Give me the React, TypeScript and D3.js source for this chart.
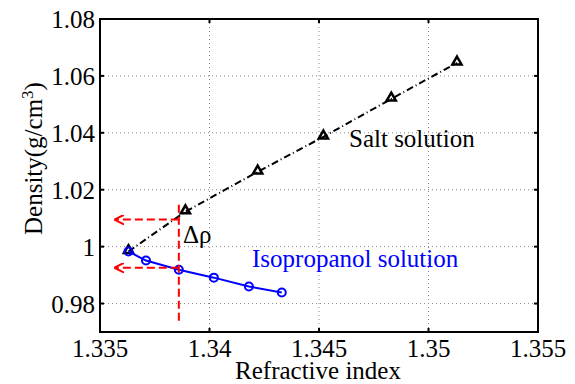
import * as d3 from "d3"

const xTicks = [1.335, 1.34, 1.345, 1.35, 1.355]
const yTicks = [0.98, 1.0, 1.02, 1.04, 1.06, 1.08]

const saltRI = [1.3363, 1.3389, 1.3422, 1.3452, 1.3483, 1.3513]
const saltDensity = [0.9983, 1.0123, 1.0263, 1.0386, 1.0519, 1.0646]

const isoRI = [1.3363, 1.3371, 1.3386, 1.3402, 1.3418, 1.3433]
const isoDensity = [0.9983, 0.9951, 0.9919, 0.9891, 0.986, 0.9839]

// red guide lines for the density difference
const guideRI = 1.3386
const guideArrowRI = 1.3357
const guideLevels = [1.0095, 0.9926]
const guideSpan = [1.0147, 0.9733]

const width = 575
const height = 384
const margin = { top: 19, right: 37, bottom: 52, left: 100 }
const txt = { fontFamily: "'Liberation Serif', serif", fontSize: "25px" }

export default function App() {
  const x = d3.scaleLinear().domain([1.335, 1.355]).range([margin.left, width - margin.right])
  const y = d3.scaleLinear().domain([0.97, 1.08]).range([height - margin.bottom, margin.top])

  const salt = saltRI.map((r, i) => [r, saltDensity[i]] as [number, number])
  const iso = isoRI.map((r, i) => [r, isoDensity[i]] as [number, number])
  const line = d3
    .line<[number, number]>()
    .x((d) => x(d[0]))
    .y((d) => y(d[1]))

  const x0 = x.range()[0]
  const x1 = x.range()[1]
  const y0 = y.range()[0]
  const y1 = y.range()[1]
  const tri = d3.symbol().type(d3.symbolTriangle).size(36)

  return (
    <svg width={width} height={height} style={{ position: "absolute", left: 0, top: 0 }}>
      <defs>
        <marker id="arr" viewBox="0 0 10 10" refX="9" refY="5" markerWidth="5" markerHeight="5" orient="auto">
          <path d="M0,0 L10,5 L0,10" fill="none" stroke="#ff0000" strokeWidth="2" />
        </marker>
      </defs>
      <rect x={0} y={0} width={width} height={height} fill="#fff" />

      {/* grid */}
      <g stroke="#888" strokeWidth={1} strokeDasharray="1,3">
        {xTicks.slice(1, -1).map((t) => (
          <line key={t} x1={x(t)} x2={x(t)} y1={y0} y2={y1} />
        ))}
        {yTicks.slice(0, -1).map((t) => (
          <line key={t} x1={x0} x2={x1} y1={y(t)} y2={y(t)} />
        ))}
      </g>

      {/* ticks */}
      <g stroke="#000" strokeWidth={2}>
        {xTicks.map((t) => (
          <g key={t}>
            <line x1={x(t)} x2={x(t)} y1={y0} y2={y0 - 4} />
            <line x1={x(t)} x2={x(t)} y1={y1} y2={y1 + 4} />
          </g>
        ))}
        {yTicks.map((t) => (
          <g key={t}>
            <line x1={x0} x2={x0 + 4} y1={y(t)} y2={y(t)} />
            <line x1={x1} x2={x1 - 4} y1={y(t)} y2={y(t)} />
          </g>
        ))}
      </g>

      {/* salt solution */}
      <path d={line(salt) || ""} fill="none" stroke="#000" strokeWidth={2} strokeDasharray="7,3,1,3" />
      {salt.map((d, i) => (
        <path
          key={i}
          d={tri() || ""}
          transform={`translate(${x(d[0])},${y(d[1]) - 1})`}
          fill="none"
          stroke="#000"
          strokeWidth={2.5}
        />
      ))}

      {/* isopropanol solution */}
      <path d={line(iso) || ""} fill="none" stroke="#0000ff" strokeWidth={2} />
      {iso.map((d, i) => (
        <circle key={i} cx={x(d[0])} cy={y(d[1])} r={4} fill="none" stroke="#0000ff" strokeWidth={2} />
      ))}

      {/* red guides */}
      <g stroke="#ff0000" strokeWidth={2} strokeDasharray="8,4" fill="none">
        <line x1={x(guideRI)} x2={x(guideRI)} y1={y(guideSpan[0])} y2={y(guideSpan[1])} />
        {guideLevels.map((v) => (
          <line key={v} x1={x(guideRI)} x2={x(guideArrowRI)} y1={y(v)} y2={y(v)} markerEnd="url(#arr)" />
        ))}
      </g>

      {/* frame */}
      <rect x={x0} y={y1} width={x1 - x0} height={y0 - y1} fill="none" stroke="#000" strokeWidth={2} />

      {/* tick labels */}
      {xTicks.map((t) => (
        <text key={t} x={x(t)} y={y0 + 25} textAnchor="middle" style={txt}>
          {t === 1.34 || t === 1.35 ? t.toFixed(2) : t.toFixed(3)}
        </text>
      ))}
      {yTicks.map((t) => (
        <text key={t} x={x0 - 5} y={y(t) + 9} textAnchor="end" style={txt}>
          {t === 1 ? "1" : t.toFixed(2)}
        </text>
      ))}

      {/* axis labels */}
      <text x={(x0 + x1) / 2 - 1} y={379} textAnchor="middle" style={txt}>
        Refractive index
      </text>
      <text transform="translate(42,235) rotate(-90)" style={txt}>
        Density(g/cm<tspan dy={-9} style={{ fontSize: "17px" }}>3</tspan>
        <tspan dy={9}>)</tspan>
      </text>

      {/* annotations */}
      <text x={349} y={147} style={txt}>
        Salt solution
      </text>
      <text x={252} y={267} style={{ ...txt, fill: "#0000ff" }}>
        Isopropanol solution
      </text>
      <text x={183} y={243} style={txt}>
        Δρ
      </text>
    </svg>
  )
}
